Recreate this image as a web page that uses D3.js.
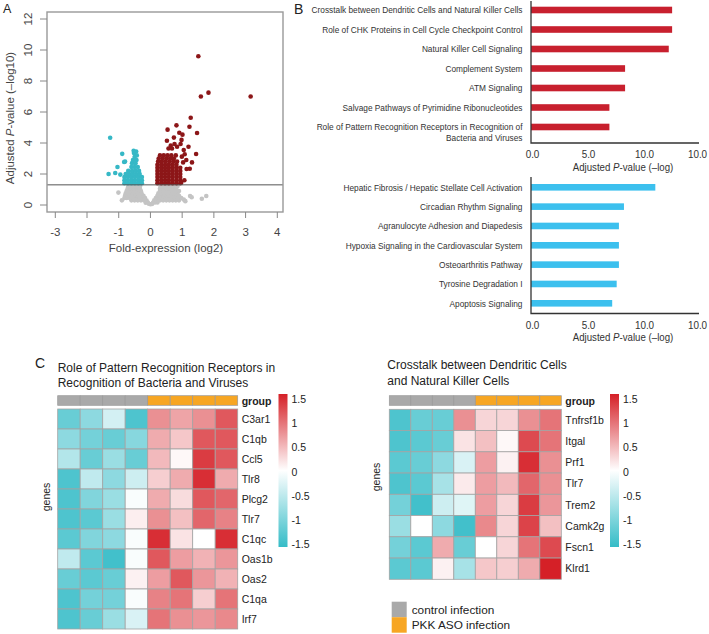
<!DOCTYPE html>
<html><head><meta charset="utf-8">
<script src="https://cdn.jsdelivr.net/npm/d3@7"></script>
<style>body{margin:0;background:#fff} svg{display:block} text{font-family:"Liberation Sans",Arial,sans-serif}</style>
</head><body><svg id="c" width="709" height="634"></svg>
<script>
// ---------------- DATA ----------------
// Panel A: volcano plot [log2 fold-expression, adjusted -log10 p]
const volcanoNS = [
 [0,0.05],[-0.05,0.08],[0.05,0.06],
 [-0.15,0.15],[-0.08,0.16],[0.08,0.15],[0.15,0.17],[0.22,0.16],
 [-0.6,0.3],[-0.5,0.3],[-0.4,0.3],[-0.3,0.3],[-0.2,0.3],[-0.12,0.28],[0.12,0.3],[0.2,0.3],[0.3,0.3],[0.4,0.3],[0.5,0.3],[0.6,0.3],[0.7,0.3],[0.8,0.3],[0.9,0.3],
 [-0.75,0.45],[-0.65,0.45],[-0.55,0.45],[-0.45,0.45],[-0.35,0.45],[-0.25,0.45],[-0.17,0.45],[0.17,0.45],[0.27,0.45],[0.37,0.45],[0.47,0.45],[0.57,0.45],[0.67,0.45],[0.77,0.45],[0.87,0.45],[0.97,0.45],
 [-0.8,0.6],[-0.7,0.6],[-0.6,0.6],[-0.5,0.6],[-0.4,0.6],[-0.3,0.6],[-0.22,0.6],[0.22,0.6],[0.3,0.6],[0.4,0.6],[0.5,0.6],[0.6,0.6],[0.7,0.6],[0.8,0.6],[0.9,0.6],
 [-0.78,0.75],[-0.68,0.75],[-0.58,0.75],[-0.48,0.75],[-0.38,0.75],[-0.28,0.75],[0.25,0.75],[0.35,0.75],[0.45,0.75],[0.55,0.75],[0.65,0.75],[0.75,0.75],[0.85,0.75],
 [-0.75,0.9],[-0.65,0.9],[-0.55,0.9],[-0.45,0.9],[-0.35,0.9],[-0.3,0.9],[0.3,0.9],[0.4,0.9],[0.5,0.9],[0.6,0.9],[0.7,0.9],[0.8,0.9],[0.9,0.9],
 [-0.72,1.05],[-0.62,1.05],[-0.52,1.05],[-0.42,1.05],[-0.33,1.05],[0.3,1.05],[0.4,1.05],[0.5,1.05],[0.6,1.05],[0.7,1.05],[0.8,1.05],
 [-0.7,1.2],[-0.6,1.2],[-0.5,1.2],[-0.4,1.2],[-0.33,1.2],[0.32,1.2],[0.42,1.2],[0.52,1.2],[0.62,1.2],[0.72,1.2],[0.85,1.2],
 [-1.01,0.8],[-0.82,0.45],[-0.9,0.3],[1.05,0.35],[1.1,0.25],[1.25,0.58],[1.3,0.5],[1.62,0.4],[1.76,0.58]
];
const volcanoUp = [
 [0.22,1.4],[0.34,1.4],[0.46,1.4],[0.58,1.4],[0.70,1.4],[0.82,1.4],[0.94,1.4],
 [0.22,1.6],[0.34,1.6],[0.46,1.6],[0.58,1.6],[0.70,1.6],[0.82,1.6],[0.94,1.6],
 [0.22,1.8],[0.34,1.8],[0.46,1.8],[0.58,1.8],[0.70,1.8],[0.82,1.8],[0.94,1.8],
 [0.22,2.0],[0.34,2.0],[0.46,2.0],[0.58,2.0],[0.70,2.0],[0.82,2.0],[0.94,2.0],
 [0.22,2.2],[0.34,2.2],[0.46,2.2],[0.58,2.2],[0.70,2.2],[0.82,2.2],[0.94,2.2],
 [0.22,2.4],[0.34,2.4],[0.46,2.4],[0.58,2.4],[0.70,2.4],[0.82,2.4],[0.94,2.4],
 [0.22,2.6],[0.34,2.6],[0.46,2.6],[0.58,2.6],[0.70,2.6],[0.82,2.6],
 [0.24,2.8],[0.36,2.8],[0.48,2.8],[0.60,2.8],[0.72,2.8],[0.84,2.8],
 [0.26,3.0],[0.38,3.0],[0.50,3.0],[0.62,3.0],[0.74,3.0],
 [0.30,3.2],[0.42,3.2],[0.54,3.2],[0.66,3.2],[0.80,3.2],
 [1.51,9.6],[1.59,7.0],[1.83,7.25],[3.16,7.0],[1.27,5.63],[1.23,5.05],[0.82,5.14],[0.54,4.86],
 [1.47,4.65],[0.91,4.66],[0.74,4.35],[1.01,4.54],[0.98,4.2],[0.52,4.15],[1.44,3.29],[1.31,2.75],
 [1.24,2.34],[1.14,2.32],[1.2,3.76],[1.05,3.55],[0.64,3.83],[0.57,3.65],[0.84,3.76],[0.95,3.94],
 [1.08,3.27],[0.99,3.12],[0.68,3.65],[0.76,3.94],[1.13,2.9],[1.03,2.75],[0.97,1.44],[1.07,1.6]
];
const volcanoDown = [
 [-0.82,1.4],[-0.71,1.4],[-0.6,1.4],[-0.49,1.4],[-0.38,1.4],[-0.27,1.4],
 [-0.82,1.6],[-0.71,1.6],[-0.6,1.6],[-0.49,1.6],[-0.38,1.6],[-0.27,1.6],
 [-0.82,1.8],[-0.71,1.8],[-0.6,1.8],[-0.49,1.8],[-0.38,1.8],[-0.27,1.8],
 [-0.78,2.0],[-0.67,2.0],[-0.56,2.0],[-0.45,2.0],[-0.34,2.0],
 [-0.7,2.2],[-0.58,2.2],[-0.47,2.2],[-0.36,2.2],
 [-0.6,2.45],[-0.5,2.45],[-0.4,2.45],
 [-0.58,2.7],[-0.47,2.7],[-0.55,2.9],[-0.44,2.9],
 [-0.5,3.1],[-0.43,3.2],[-0.52,3.35],[-0.45,3.45],[-0.53,3.5],
 [-1.27,4.34],[-0.89,3.3],[-1.04,2.45],[-1.32,2.0],[-1.11,2.06],[-0.95,1.96],[-0.83,2.77],[-0.8,2.8]
];
const volcanoXTicks = [-3,-2,-1,0,1,2,3,4];
const volcanoYTicks = [0,2,4,6,8,10,12];
const pThreshold = 1.3;

// Panel B: IPA pathways
const pathwaysUp = ["Crosstalk between Dendritic Cells and Natural Killer Cells","Role of CHK Proteins in Cell Cycle Checkpoint Control","Natural Killer Cell Signaling","Complement System","ATM Signaling","Salvage Pathways of Pyrimidine Ribonucleotides","Role of Pattern Recognition Receptors in Recognition of\nBacteria and Viruses"];
const valuesUp = [12.6,12.6,12.3,8.4,8.4,7.0,7.0];
const pathwaysDown = ["Hepatic Fibrosis / Hepatic Stellate Cell Activation","Circadian Rhythm Signaling","Agranulocyte Adhesion and Diapedesis","Hypoxia Signaling in the Cardiovascular System","Osteoarthritis Pathway","Tyrosine Degradation I","Apoptosis Signaling"];
const valuesDown = [11.1,8.3,7.85,7.85,7.85,7.65,7.25];
const barTickValues = [0,5,10,15];
const barTickLabels = ["0.0","5.0","10.0","10.0"];

// Panel C: heatmaps (z-scores), columns: 4 control, 4 PKK ASO
const groups = ["control","control","control","control","pkk","pkk","pkk","pkk"];
const genesPRR = ["C3ar1","C1qb","Ccl5","Tlr8","Plcg2","Tlr7","C1qc","Oas1b","Oas2","C1qa","Irf7"];
const zPRR = [
 [-1.2,-0.9,-0.35,-1.4,0.8,0.65,0.8,1.2],
 [-0.9,-1.1,-1.2,-0.95,0.6,0.4,1.2,1.2],
 [-0.6,-1.2,-0.8,-1.2,0.5,0.05,1.4,1.2],
 [-1.4,-0.5,-0.9,-0.4,0.35,0.6,1.5,0.6],
 [-1.4,-1.0,-0.8,-0.05,0.6,0.25,1.2,1.1],
 [-1.4,-1.3,-0.8,0.12,0.8,0.45,1.1,0.9],
 [-1.3,-1.0,-0.9,-0.05,1.5,0.2,0.0,1.5],
 [-0.5,-1.3,-1.5,-0.05,1.2,0.7,0.55,0.75],
 [-1.2,-1.3,-1.2,0.1,0.7,1.2,0.75,0.55],
 [-1.4,-1.1,-1.1,-0.05,0.9,1.0,0.35,1.0],
 [-1.4,-1.2,-0.8,-0.3,1.0,0.8,0.75,0.85]
];
const genesDCNK = ["Tnfrsf1b","Itgal","Prf1","Tlr7","Trem2","Camk2g","Fscn1","Klrd1"];
const zDCNK = [
 [-1.4,-1.2,-1.2,0.8,0.3,0.3,0.8,1.0],
 [-1.4,-1.3,-1.2,0.2,0.45,0.05,1.3,1.0],
 [-1.3,-1.2,-0.9,-0.3,0.7,0.1,1.5,0.8],
 [-1.4,-1.3,-0.7,0.15,0.7,0.5,1.1,0.8],
 [-1.1,-1.5,-0.4,-0.25,0.7,0.3,1.4,0.75],
 [-0.8,0.0,-0.9,-1.5,0.85,0.3,1.35,0.45],
 [-1.1,-1.3,0.6,-1.2,0.0,0.3,1.0,1.3],
 [-1.3,-1.3,0.1,-0.7,0.4,0.35,0.6,1.6]
];
const legendTicks = [1.5,1,0.5,0,-0.5,-1,-1.5];
const legendGroups = ["control infection","PKK ASO infection"];

// ---------------- DRAW ----------------
const svg = d3.select("#c");

// ===== Panel A =====
const xA = d3.scaleLinear().domain([-3,4]).range([55.3,277.3]);
const yA = d3.scaleLinear().domain([0,12]).range([205,19]);
const boxA = {x0:47, x1:283, y0:12, y1:212};
const gA = svg.append("g");
gA.append("text").attr("x",3).attr("y",13).attr("font-size",12.5).attr("fill","#222").text("A");
gA.selectAll("circle.ns").data(volcanoNS).join("circle").attr("class","ns")
  .attr("cx",d=>xA(d[0])).attr("cy",d=>yA(d[1])).attr("r",2.3).attr("fill","#c4c4c4");
gA.selectAll("circle.dn").data(volcanoDown).join("circle").attr("class","dn")
  .attr("cx",d=>xA(d[0])).attr("cy",d=>yA(d[1])).attr("r",2.3).attr("fill","#36b8c6");
gA.selectAll("circle.up").data(volcanoUp).join("circle").attr("class","up")
  .attr("cx",d=>xA(d[0])).attr("cy",d=>yA(d[1])).attr("r",2.3).attr("fill","#8c1618");
gA.append("line").attr("x1",boxA.x0).attr("x2",boxA.x1).attr("y1",yA(pThreshold)).attr("y2",yA(pThreshold))
  .attr("stroke","#555").attr("stroke-width",1);
gA.append("rect").attr("x",boxA.x0).attr("y",boxA.y0).attr("width",boxA.x1-boxA.x0).attr("height",boxA.y1-boxA.y0)
  .attr("fill","none").attr("stroke","#999").attr("stroke-width",1.4);
const xt = gA.selectAll("g.xt").data(volcanoXTicks).join("g").attr("transform",d=>`translate(${xA(d)},0)`);
xt.append("line").attr("y1",boxA.y1).attr("y2",boxA.y1+6).attr("stroke","#888");
xt.append("text").attr("y",236).attr("text-anchor","middle").attr("font-size",11.5).attr("fill","#444").text(d=>d);
const yt = gA.selectAll("g.yt").data(volcanoYTicks).join("g").attr("transform",d=>`translate(0,${yA(d)})`);
yt.append("line").attr("x1",boxA.x0-7).attr("x2",boxA.x0).attr("stroke","#888");
yt.append("text").attr("transform","translate(32,0) rotate(-90)").attr("text-anchor","middle").attr("font-size",11.5).attr("fill","#444").text(d=>d);
gA.append("text").attr("x",166).attr("y",252).attr("text-anchor","middle").attr("font-size",11.5).attr("fill","#444").text("Fold-expression (log2)");
const yTitle = gA.append("text").attr("transform","translate(14,118) rotate(-90)").attr("text-anchor","middle").attr("font-size",11.5).attr("fill","#444");
yTitle.append("tspan").text("Adjusted ");
yTitle.append("tspan").attr("font-style","italic").text("P");
yTitle.append("tspan").text("-value (\u2013log10)");

// ===== Panel B =====
const xB = d3.scaleLinear().domain([0,15]).range([531,699]);
const gB = svg.append("g");
gB.append("text").attr("x",294).attr("y",14).attr("font-size",14).attr("fill","#222").text("B");
function barChart(cats, vals, color, yTop, yBot, axisTop, axisY){
  const yS = d3.scalePoint().domain(cats).range([yTop,yBot]);
  const g = gB.append("g");
  g.selectAll("rect").data(cats).join("rect")
    .attr("x",xB(0)).attr("y",d=>yS(d)-3.3).attr("height",6.6)
    .attr("width",(d,i)=>xB(vals[i])-xB(0)).attr("fill",color);
  const lab = g.selectAll("text.lab").data(cats).join("text").attr("class","lab")
    .attr("transform",d=>`translate(522.5,${yS(d)}) scale(0.885,1)`)
    .attr("text-anchor","end").attr("font-size",9.4).attr("fill","#333");
  lab.each(function(d){
    const t = d3.select(this);
    d.split("\n").forEach((l,k)=>t.append("tspan").attr("x",0).attr("dy",k===0?"0.35em":"1.15em").text(l));
  });
  g.append("path").attr("d",`M${xB(0)},${axisTop}V${axisY}H${xB(15)}`).attr("fill","none").attr("stroke","#333").attr("stroke-width",1.3);
  g.selectAll("text.tk").data(barTickValues).join("text").attr("class","tk")
    .attr("transform",d=>`translate(${Math.min(xB(d)+1.5,697.5)},${axisY+15}) scale(0.9,1)`).attr("text-anchor","middle")
    .attr("font-size",11).attr("fill","#333").text((d,i)=>barTickLabels[i]);
  const tt = g.append("text").attr("transform",`translate(623,${axisY+27.5}) scale(0.88,1)`).attr("text-anchor","middle").attr("font-size",11).attr("fill","#333");
  tt.append("tspan").text("Adjusted ");
  tt.append("tspan").attr("font-style","italic").text("P");
  tt.append("tspan").text("-value (\u2013log)");
}
barChart(pathwaysUp, valuesUp, "#c8202e", 10, 127, 1, 143);
barChart(pathwaysDown, valuesDown, "#3cc0ee", 187.3, 303.3, 177, 313.5);

// ===== Panel C =====
const color = d3.scaleLinear().domain([-1.6,0,1.6]).range(["#35bcc7","#ffffff","#d52027"]);
const grpColor = {control:"#a9a9a9", pkk:"#f7a623"};
svg.append("text").attr("x",35).attr("y",368).attr("font-size",14).attr("fill","#222").text("C");
const defs = svg.append("defs");
const grad = defs.append("linearGradient").attr("id","zgrad").attr("x1",0).attr("x2",0).attr("y1",1).attr("y2",0);
d3.range(-1.6,1.61,0.4).forEach(v=>grad.append("stop").attr("offset",(v+1.6)/3.2).attr("stop-color",color(v)));

function heatmap(opt){
  const g = svg.append("g");
  opt.title.forEach((t,k)=>g.append("text").attr("x",opt.titleX).attr("y",opt.titleY+k*15.5)
    .attr("font-size",12).attr("fill","#222").text(t));
  const xS = d3.scaleBand().domain(d3.range(groups.length)).range([opt.x0,opt.x1]);
  const yS = d3.scaleBand().domain(opt.genes).range([opt.y0,opt.y1]);
  g.selectAll("rect.grp").data(groups).join("rect").attr("class","grp")
    .attr("x",(d,i)=>xS(i)).attr("y",395.7).attr("width",xS.bandwidth()).attr("height",9.6)
    .attr("fill",d=>grpColor[d]).attr("stroke","#999").attr("stroke-width",0.7);
  g.append("text").attr("x",opt.x1+4).attr("y",404.5).attr("font-size",10.5).attr("font-weight","bold").attr("fill","#222").text("group");
  opt.z.forEach((row,r)=>{
    g.selectAll(null).data(row).join("rect")
      .attr("x",(d,i)=>xS(i)).attr("y",yS(opt.genes[r])).attr("width",xS.bandwidth()).attr("height",yS.bandwidth())
      .attr("fill",d=>color(d)).attr("stroke","#a3a3a3").attr("stroke-width",0.8);
  });
  g.selectAll("text.gene").data(opt.genes).join("text").attr("class","gene")
    .attr("x",opt.x1+4).attr("y",d=>yS(d)+yS.bandwidth()/2).attr("dy","0.36em")
    .attr("font-size",10.5).attr("fill","#222").text(d=>d);
  g.append("text").attr("transform",`translate(${opt.genesX},${opt.genesY}) rotate(-90)`).attr("text-anchor","middle")
    .attr("font-size",10.5).attr("fill","#222").text("genes");
  const lS = d3.scaleLinear().domain([-1.5,1.5]).range([544,399.5]);
  g.append("rect").attr("x",opt.lx).attr("y",394).attr("width",9).attr("height",153).attr("fill","url(#zgrad)");
  g.selectAll("text.lt").data(legendTicks).join("text").attr("class","lt")
    .attr("x",opt.lx+13).attr("y",d=>lS(d)).attr("dy","0.36em").attr("font-size",10.5).attr("fill","#222").text(d=>d);
}
heatmap({title:["Role of Pattern Recognition Receptors in","Recognition of Bacteria and Viruses"], titleX:57.7, titleY:371.5,
  x0:57.7, x1:237.7, y0:409, y1:629, genes:genesPRR, z:zPRR, genesX:50, genesY:497, lx:278.5});
heatmap({title:["Crosstalk between Dendritic Cells","and Natural Killer Cells"], titleX:387.3, titleY:369,
  x0:389.3, x1:561.3, y0:409.3, y1:579.3, genes:genesDCNK, z:zDCNK, genesX:380, genesY:477, lx:610});

const lg = svg.append("g");
lg.selectAll("rect").data(legendGroups).join("rect")
  .attr("x",391.7).attr("y",(d,i)=>601.7+i*15.5).attr("width",15).attr("height",15.5)
  .attr("fill",(d,i)=>i===0?grpColor.control:grpColor.pkk);
lg.selectAll("text").data(legendGroups).join("text")
  .attr("x",411.7).attr("y",(d,i)=>609.3+i*15.8).attr("dy","0.36em").attr("font-size",11.8).attr("fill","#222").text(d=>d);
</script></body></html>
